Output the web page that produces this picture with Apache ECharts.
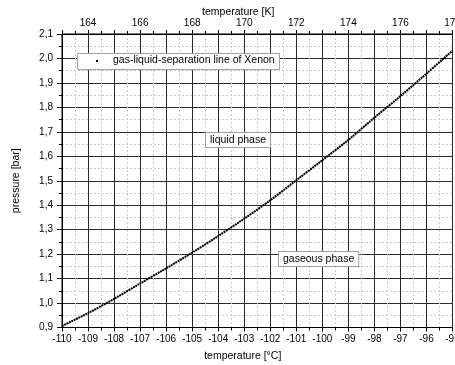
<!DOCTYPE html>
<html>
<head>
<meta charset="utf-8">
<script src="https://cdn.jsdelivr.net/npm/echarts@6/dist/echarts.min.js"></script>
<style>
html,body{margin:0;padding:0;background:#fff;}
#chart{width:455px;height:365px;}
</style>
</head>
<body>
<div id="chart"></div>
<script>
// Data
var tempC = [-110, -109, -108, -107, -106, -105, -104, -103, -102, -101, -100, -99, -98, -97, -96, -95];
var pressureBar = [0.906, 0.959, 1.017, 1.080, 1.142, 1.206, 1.274, 1.345, 1.420, 1.502, 1.584, 1.667, 1.758, 1.846, 1.938, 2.032];
var seriesName = 'gas-liquid-separation line of Xenon';
var xTitleBottom = 'temperature [°C]';
var xTitleTop = 'temperature [K]';
var yTitle = 'pressure [bar]';
var labelLiquid = 'liquid phase';
var labelGas = 'gaseous phase';
var kelvinOffset = 273;

var FONT = 'Arial, "Liberation Sans", sans-serif';
var chart = echarts.init(document.getElementById('chart'), null, {renderer: 'canvas'});

var points = tempC.map(function (t, i) { return [t, pressureBar[i]]; });

var option = {
  backgroundColor: '#fff',
  animation: false,
  textStyle: {fontFamily: FONT},
  grid: {
    left: 62, right: 2.5, top: 34, bottom: 37.5,
    show: true, borderColor: '#000', borderWidth: 1,
    outerBoundsMode: 'none', containLabel: false
  },
  xAxis: [{
    type: 'value', position: 'bottom',
    min: tempC[0], max: tempC[tempC.length - 1], interval: 1,
    name: xTitleBottom, nameLocation: 'middle', nameGap: 23, nameMoveOverlap: false,
    nameTextStyle: {fontSize: 10.5, color: '#000', fontFamily: FONT, padding: [0, 29, 0, 0]},
    axisLine: {show: true, onZero: false, lineStyle: {color: '#000', width: 1}},
    axisTick: {show: true, inside: false, length: 4, lineStyle: {color: '#000'}},
    minorTick: {show: true, splitNumber: 2, length: 3, lineStyle: {color: '#000'}},
    axisLabel: {fontSize: 10, color: '#000', margin: 7, fontFamily: FONT, showMaxLabel: true, showMinLabel: true},
    splitLine: {show: true, lineStyle: {color: '#2a2a2a', width: 1}},
    minorSplitLine: {show: true, lineStyle: {color: '#c8c8c8', width: 1, type: [2, 2]}}
  }, {
    type: 'value', position: 'top',
    min: tempC[0] + kelvinOffset, max: tempC[tempC.length - 1] + kelvinOffset, interval: 1,
    name: xTitleTop, nameLocation: 'middle', nameGap: 16, nameMoveOverlap: false,
    nameTextStyle: {fontSize: 10.5, color: '#000', fontFamily: FONT, padding: [0, 38, 0, 0]},
    axisLine: {show: true, onZero: false, lineStyle: {color: '#000', width: 1}},
    axisTick: {show: true, inside: false, length: 4, lineStyle: {color: '#000'}},
    minorTick: {show: true, splitNumber: 2, length: 3, lineStyle: {color: '#000'}},
    axisLabel: {
      fontSize: 10, color: '#000', margin: 6, fontFamily: FONT, showMaxLabel: true,
      formatter: function (v) { return (Math.round(v) % 2 === 0) ? String(Math.round(v)) : ''; }
    },
    splitLine: {show: false},
    minorSplitLine: {show: false}
  }],
  yAxis: [{
    type: 'value', position: 'left',
    min: 0.9, max: 2.1, interval: 0.1,
    name: yTitle, nameLocation: 'middle', nameGap: 40,
    nameTextStyle: {fontSize: 10.5, color: '#000', fontFamily: FONT},
    axisLine: {show: true, onZero: false, lineStyle: {color: '#000', width: 1}},
    axisTick: {show: true, inside: false, length: 5, lineStyle: {color: '#000'}},
    minorTick: {show: true, splitNumber: 2, length: 3, lineStyle: {color: '#000'}},
    axisLabel: {
      fontSize: 10, color: '#000', margin: 9, fontFamily: FONT, showMaxLabel: true, showMinLabel: true,
      formatter: function (v) { return v.toFixed(1).replace('.', ','); }
    },
    splitLine: {show: true, lineStyle: {color: '#2a2a2a', width: 1}},
    minorSplitLine: {show: true, lineStyle: {color: '#c8c8c8', width: 1, type: [2, 2]}}
  }],
  series: [{
    name: seriesName,
    type: 'line',
    xAxisIndex: 0, yAxisIndex: 0,
    data: points,
    smooth: 0.3,
    showSymbol: false,
    symbol: 'none',
    lineStyle: {color: '#000', width: 2, type: [2, 0.6]},
    z: 5
  }],
  graphic: [
    {type: 'rect', left: 77, top: 53, shape: {width: 202, height: 16},
     style: {fill: '#fff', stroke: '#a0a0a0', lineWidth: 1}, z: 10},
    {type: 'rect', left: 96, top: 60, shape: {width: 2, height: 2},
     style: {fill: '#000'}, z: 11},
    {type: 'text', left: 113, top: 54.5,
     style: {text: seriesName, fontSize: 10.5, fontFamily: FONT, fill: '#000'}, z: 11},
    {type: 'text', left: 205, top: 132,
     style: {text: labelLiquid, fontSize: 10.5, fontFamily: FONT, fill: '#000',
             backgroundColor: '#fff', borderColor: '#a0a0a0', borderWidth: 1, padding: [2, 4, 1, 4]}, z: 11},
    {type: 'text', left: 278, top: 251,
     style: {text: labelGas, fontSize: 10.5, fontFamily: FONT, fill: '#000',
             backgroundColor: '#fff', borderColor: '#a0a0a0', borderWidth: 1, padding: [2, 4, 1, 4]}, z: 11}
  ]
};
chart.setOption(option);
</script>
</body>
</html>
